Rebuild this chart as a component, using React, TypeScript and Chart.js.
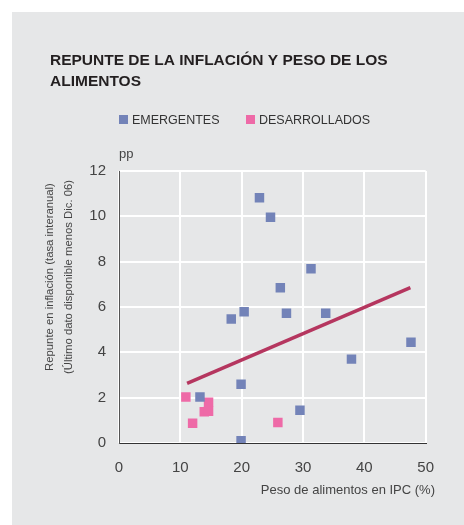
import React, { useEffect, useRef } from "react";
import { Chart, registerables } from "chart.js";

Chart.register(...registerables);

// ---- Data ----
const TITLE_LINES = ["REPUNTE DE LA INFLACIÓN Y PESO DE LOS", "ALIMENTOS"];
const SERIES_NAMES = ["EMERGENTES", "DESARROLLADOS"];
const Y_UNIT = "pp";
const Y_TITLE_LINES = [
  "Repunte en inflación (tasa interanual)",
  "(Último dato disponible menos Dic. 06)",
];
const X_TITLE = "Peso de alimentos en IPC (%)";
const X_MIN = 0;
const X_MAX = 50;
const X_STEP = 10;
const Y_MIN = 0;
const Y_MAX = 12;
const Y_STEP = 2;

const emergentesX = [22.9, 24.7, 26.3, 31.3, 27.3, 33.7, 20.4, 18.3, 37.9, 47.6, 29.5, 19.9, 13.2, 19.9];
const emergentesY = [10.82, 9.96, 6.85, 7.69, 5.72, 5.72, 5.79, 5.47, 3.7, 4.44, 1.44, 2.59, 2.03, 0.1];
const desarrolladosX = [10.9, 12.0, 14.6, 13.9, 14.6, 25.9];
const desarrolladosY = [2.03, 0.87, 1.8, 1.38, 1.4, 0.9];
const trendX = [11.1, 47.5];
const trendY = [2.63, 6.85];

const BLUE = "#7383b8";
const PINK = "#ee6aa7";
const LINE = "#b5365f";
const FONT = "'Liberation Sans', Arial, sans-serif";

const textPlugin = {
  id: "textPlugin",
  afterDraw(chart: any) {
    const ctx = chart.ctx as CanvasRenderingContext2D;
    ctx.save();
    // Title
    ctx.fillStyle = "#231f20";
    ctx.font = `bold 15.5px ${FONT}`;
    ctx.textAlign = "left";
    ctx.textBaseline = "alphabetic";
    ctx.fillText(TITLE_LINES[0], 50, 64.5);
    ctx.fillText(TITLE_LINES[1], 50, 86);

    // Legend
    ctx.font = `12.5px ${FONT}`;
    ctx.fillStyle = BLUE;
    ctx.fillRect(119, 115, 9, 9);
    ctx.fillStyle = "#333";
    ctx.fillText(SERIES_NAMES[0], 132, 124);
    ctx.fillStyle = PINK;
    ctx.fillRect(246, 115, 9, 9);
    ctx.fillStyle = "#333";
    ctx.fillText(SERIES_NAMES[1], 259, 124);

    // unit
    ctx.font = `13px ${FONT}`;
    ctx.fillStyle = "#444";
    ctx.fillText(Y_UNIT, 119, 157.5);

    // X title
    ctx.textAlign = "right";
    ctx.fillText(X_TITLE, 435, 493.5);

    // Y title
    ctx.font = `11.3px ${FONT}`;
    ctx.textAlign = "center";
    ctx.textBaseline = "middle";
    ctx.translate(50, 277);
    ctx.rotate(-Math.PI / 2);
    ctx.fillText(Y_TITLE_LINES[0], 0, 0);
    ctx.fillText(Y_TITLE_LINES[1], 0, 19);
    ctx.restore();
  },
};

export default function App() {
  const ref = useRef<HTMLCanvasElement>(null);
  useEffect(() => {
    if (!ref.current) return;
    const chart = new Chart(ref.current, {
      type: "scatter",
      data: {
        datasets: [
          {
            label: SERIES_NAMES[0],
            data: emergentesX.map((x, i) => ({ x, y: emergentesY[i] })),
            backgroundColor: BLUE,
            borderWidth: 0,
            pointStyle: "rect",
            pointRadius: 6.7,
            order: 1,
          },
          {
            label: SERIES_NAMES[1],
            data: desarrolladosX.map((x, i) => ({ x, y: desarrolladosY[i] })),
            backgroundColor: PINK,
            borderWidth: 0,
            pointStyle: "rect",
            pointRadius: 6.7,
            order: 1,
          },
          {
            type: "line",
            label: "trend",
            data: trendX.map((x, i) => ({ x, y: trendY[i] })),
            borderColor: LINE,
            borderWidth: 3.5,
            pointRadius: 0,
            showLine: true,
            fill: false,
            order: 3,
          } as any,
        ],
      },
      options: {
        responsive: false,
        animation: false,
        devicePixelRatio: 1,
        layout: { padding: { top: 171, right: 38.3, left: 0, bottom: 0 } },
        plugins: {
          legend: { display: false },
          title: { display: false },
          tooltip: { enabled: false },
        },
        scales: {
          x: {
            type: "linear",
            min: X_MIN,
            max: X_MAX,
            ticks: {
              stepSize: X_STEP,
              padding: 16,
              color: "#444",
              font: { family: FONT, size: 15 },
            },
            grid: { color: "#ffffff", lineWidth: 2, drawTicks: false },
            border: { color: "#333", width: 1 },
            afterFit: (s: any) => {
              s.height = 82;
            },
          },
          y: {
            type: "linear",
            min: Y_MIN,
            max: Y_MAX,
            ticks: {
              stepSize: Y_STEP,
              padding: 13,
              color: "#444",
              font: { family: FONT, size: 15 },
            },
            grid: { color: "#ffffff", lineWidth: 2, drawTicks: false },
            border: { color: "#555", width: 1 },
            afterFit: (s: any) => {
              s.width = 119;
            },
          },
        },
      },
      plugins: [textPlugin],
    });
    return () => chart.destroy();
  }, []);

  return (
    <div style={{ position: "fixed", left: 0, top: 0, width: 464, height: 525, background: "#fff" }}>
      <div
        style={{
          position: "absolute",
          left: 12,
          top: 12,
          width: 452,
          height: 513,
          background: "#e6e7e8",
        }}
      />
      <canvas
        ref={ref}
        width={464}
        height={525}
        style={{ position: "absolute", left: 0, top: 0, width: 464, height: 525 }}
      />
    </div>
  );
}
